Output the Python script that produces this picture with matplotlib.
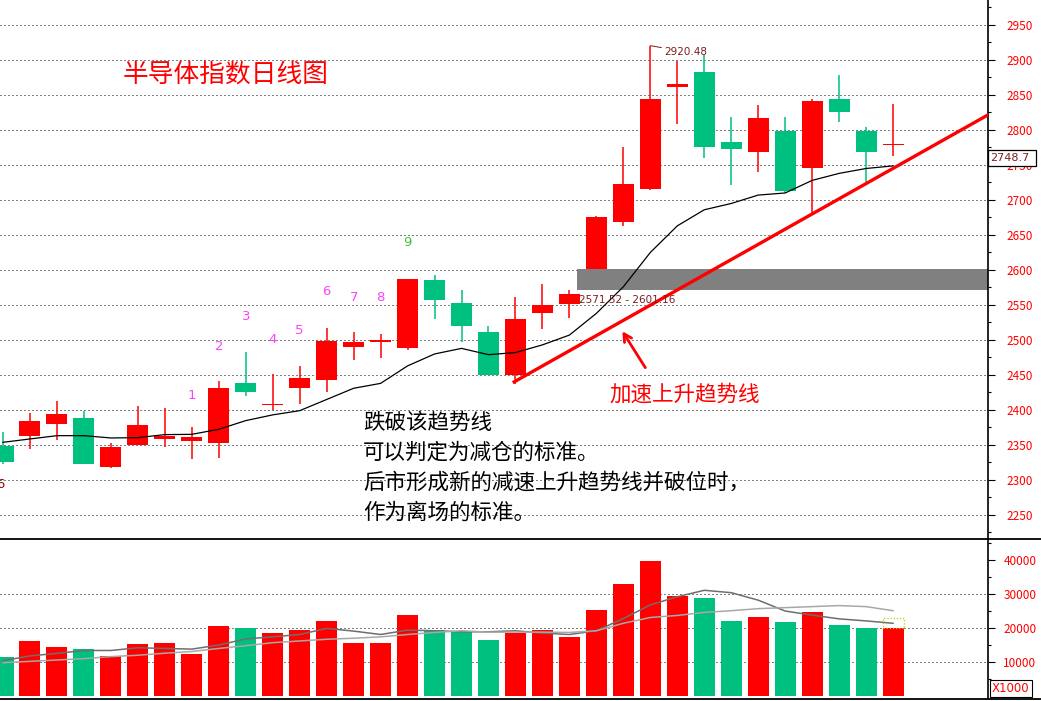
import matplotlib
matplotlib.use('Agg')
import matplotlib.pyplot as plt
import matplotlib.transforms as mtransforms
from matplotlib.patches import Rectangle
from matplotlib.lines import Line2D
import numpy as np

plt.rcParams['font.family'] = ['Noto Sans CJK SC', 'DejaVu Sans']

# ---------------- data ----------------
opens  = [2348, 2363, 2380, 2389, 2319, 2350, 2359, 2355, 2353, 2439, 2407, 2431, 2443, 2490, 2497, 2488, 2586,
          2553, 2511, 2450, 2539, 2552, 2602, 2669, 2716, 2861, 2883, 2783, 2769, 2799, 2745, 2844, 2799, 2778]
highs  = [2368, 2396, 2413, 2399, 2353, 2406, 2403, 2375, 2441, 2483, 2451, 2463, 2517, 2511, 2509, 2587, 2593,
          2571, 2520, 2562, 2580, 2571, 2677, 2775, 2920.48, 2899, 2907, 2819, 2836, 2818, 2844, 2878, 2804, 2837]
lows   = [2323, 2344, 2357, 2323, 2317, 2350, 2347, 2330, 2331, 2420, 2400, 2409, 2426, 2471, 2474, 2486, 2530,
          2497, 2450, 2437, 2516, 2532, 2602, 2663, 2714, 2809, 2760, 2721, 2740, 2710, 2680, 2812, 2726, 2763]
closes = [2326, 2384, 2394, 2323, 2347, 2379, 2363, 2362, 2431, 2426, 2407, 2446, 2499, 2497, 2500, 2587, 2557,
          2520, 2450, 2530, 2550, 2565, 2676, 2723, 2844, 2866, 2776, 2773, 2817, 2713, 2841, 2826, 2768, 2779]
price_ma = [2353.8, 2358.6, 2363.3, 2363.3, 2360, 2360.5, 2364.8, 2365.2, 2372.4, 2384.8, 2393, 2399, 2415,
            2431, 2438, 2463, 2480, 2488, 2479, 2482, 2493, 2507, 2538, 2576, 2625, 2663, 2686, 2695, 2707,
            2710, 2728, 2738, 2745, 2748.7]

volumes = [11400, 16100, 14300, 13700, 11700, 15200, 15500, 12300, 20500, 19900, 18400, 19300, 22000, 15500,
           15500, 23700, 19300, 18700, 16400, 18500, 19300, 17300, 25200, 32800, 39600, 29300, 28700, 22000,
           23100, 21700, 24600, 20800, 19900, 19900]
vol_ma5 = [10300, 11700, 12450, 13300, 13300, 14100, 13900, 13700, 14900, 16700, 17300, 18000, 19800, 19000,
           18000, 19300, 19100, 18800, 18800, 19100, 18400, 18000, 19100, 22700, 26700, 29100, 31000, 30300,
           28100, 24900, 23700, 22600, 22000, 21300]
vol_ma10 = [9700, 10100, 10500, 10900, 11500, 11900, 12500, 13000, 13900, 14700, 15600, 16100, 16600, 16900,
            17300, 18000, 18600, 19100, 18700, 18700, 18700, 18600, 19100, 21300, 23000, 23600, 24500, 25000,
            25600, 25900, 26200, 26500, 26200, 25000]
est_last_volume = 22800

price_ticks = list(range(2250, 2951, 50))
vol_ticks = [10000, 20000, 30000, 40000]
vol_grid = [10000, 20000, 30000]

td_index = [7, 8, 9, 10, 11, 12, 13, 14, 15]
td_labels = ['1', '2', '3', '4', '5', '6', '7', '8', '9']
td_prices = [2421, 2490, 2533, 2501, 2514, 2569, 2561, 2560, 2639]

zone_low, zone_high = 2571.52, 2601.16
zone_start = 21.3
trend_x = [18.9, 37.0]
trend_y = [2439, 2832]
peak_idx, peak_val = 24, 2920.48

title = '半导体指数日线图'
trend_label = '加速上升趋势线'
notes = ['跌破该趋势线', '可以判定为减仓的标准。', '后市形成新的减速上升趋势线并破位时，', '作为离场的标准。']

# ---------------- style ----------------
RED = '#ff0000'
GREEN = '#00c080'
MAROON = '#7a1f1f'
MAGENTA = '#ff40ff'
DOT = (0, (1, 3))

W, H = 1041, 701
fig = plt.figure(figsize=(W / 100, H / 100), dpi=100, facecolor='white')
AX_R = 988
P_BOT = 538
V_TOP, V_BOT = 539, 698

ax = fig.add_axes([0, 1 - P_BOT / H, AX_R / W, P_BOT / H])
axv = fig.add_axes([0, 1 - V_BOT / H, AX_R / W, (V_BOT - V_TOP) / H])

n = len(opens)
x = np.arange(n)
o = np.array(opens, float); c = np.array(closes, float)
hi = np.array(highs, float); lo = np.array(lows, float)
up = c >= o
cols = np.where(up, RED, GREEN)

XL = (-0.111, 36.52)
for a in (ax, axv):
    a.set_xlim(*XL)
    a.set_xticks([])
    for s in ('left', 'top', 'bottom'):
        a.spines[s].set_visible(False)
    a.spines['right'].set_linewidth(1.2)
    a.yaxis.tick_right()

# price panel
ax.set_ylim(2217.1, 2985.7)
for p in price_ticks:
    ax.axhline(p, color='black', lw=0.72, ls=DOT, zorder=0)
ax.set_yticks(price_ticks)
ax.set_yticks([p + 25 for p in [2200] + price_ticks], minor=True)
ax.tick_params(axis='y', which='major', direction='out', length=5, width=0.8,
               labelcolor=RED, labelsize=8.5, pad=8)
ax.tick_params(axis='y', which='minor', direction='out', length=2.5, width=0.8)

ax.add_patch(Rectangle((zone_start, zone_low), XL[1] - zone_start, zone_high - zone_low,
                       facecolor='#808080', edgecolor='none', zorder=1.5))

ax.vlines(x, lo, hi, colors=cols, lw=1.1, zorder=2)
bottoms = np.minimum(o, c)
heights = np.maximum(np.abs(c - o), 1.4)
ax.bar(x, heights, bottom=bottoms, width=0.78, color=cols, linewidth=0, zorder=3)

ax.plot(x, price_ma, color='black', lw=0.9, zorder=4)
ax.plot(trend_x, trend_y, color=RED, lw=2.4, solid_capstyle='butt', zorder=5)

ax.annotate('', xy=(22.91, 2515.7), xytext=(23.87, 2457.1),
            arrowprops=dict(arrowstyle='->,head_length=0.55,head_width=0.3', color=RED, lw=2),
            zorder=6)

ax.text(zone_start + 0.05, zone_low - 14, f'{zone_low:.2f} - {zone_high:.2f}', fontsize=7.5,
        color=MAROON, ha='left', va='center', family='DejaVu Sans', zorder=6)
ax.annotate(f'{peak_val:.2f}', xy=(peak_idx, peak_val), xytext=(10, -4.5), textcoords='offset points',
            fontsize=7.5, color=MAROON, ha='left', va='center', family='DejaVu Sans',
            arrowprops=dict(arrowstyle='-', color=MAROON, lw=0.7, shrinkA=0, shrinkB=0), zorder=6)

for i, lab, pr in zip(td_index, td_labels, td_prices):
    ax.text(i, pr, lab, ha='center', va='center', fontsize=9.5, family='DejaVu Sans',
            color=('#40c040' if lab == '9' else MAGENTA), zorder=6)
ax.text(-0.1, 2294, '6', ha='center', va='center', fontsize=9.5, family='DejaVu Sans', color='#990000')

# last MA value box on the price axis
blend = mtransforms.blended_transform_factory(ax.transAxes, ax.transData)
box_h = 16 / 0.7  # 16 px in price units
ax.add_patch(Rectangle((1.0, price_ma[-1]), 48 / AX_R, box_h, transform=blend, facecolor='white',
                       edgecolor='black', lw=0.9, clip_on=False, zorder=10))
ax.text(1.0 + 2 / AX_R, price_ma[-1] + box_h / 2, f'{price_ma[-1]:.1f}', transform=blend, ha='left',
        va='center', fontsize=8, color=MAROON, family='DejaVu Sans', clip_on=False, zorder=11)

# volume panel
axv.set_ylim(-676, 46088)
for v in vol_grid:
    axv.axhline(v, color='black', lw=0.72, ls=DOT, zorder=0)
axv.bar(x, volumes, width=0.78, color=cols, linewidth=0, zorder=2)
axv.plot(x, vol_ma5, color='#6e6e6e', lw=1.1, zorder=3)
axv.plot(x, vol_ma10, color='#a8a8a8', lw=1.1, zorder=3)
axv.add_patch(Rectangle((x[-1] - 0.39, volumes[-1]), 0.78, est_last_volume - volumes[-1],
                        fill=False, edgecolor='#c8c800', lw=0.9, ls=(0, (1, 1.5)), zorder=4))
axv.set_yticks(vol_ticks)
axv.set_yticks([5000, 15000, 25000, 35000, 45000], minor=True)
axv.tick_params(axis='y', which='major', direction='out', length=5, width=0.8,
                labelcolor=RED, labelsize=8.5, pad=6)
axv.tick_params(axis='y', which='minor', direction='out', length=2.5, width=0.8)
axv.text(1.004, 0.06, 'X1000', transform=axv.transAxes, ha='left', va='center', fontsize=8.5,
         color=RED, family='DejaVu Sans', clip_on=False, zorder=10,
         bbox=dict(boxstyle='square,pad=0.2', fc='white', ec='black', lw=0.8))

# separators
for yy in (538.5, 698.5):
    fig.add_artist(Line2D([0, 1], [1 - yy / H] * 2, transform=fig.transFigure, color='black', lw=1.3))

# texts
fig.text(123 / W, 1 - 76 / H, title, color=RED, fontsize=18.5, ha='left', va='center')
fig.text(609 / W, 1 - 395 / H, trend_label, color=RED, fontsize=15.5, ha='left', va='center')
for k, line in enumerate(notes):
    fig.text(363 / W, 1 - (423 + 30 * k) / H, line, color='black', fontsize=15.5, ha='left', va='center')

fig.savefig('out.png', dpi=100, facecolor='white')
